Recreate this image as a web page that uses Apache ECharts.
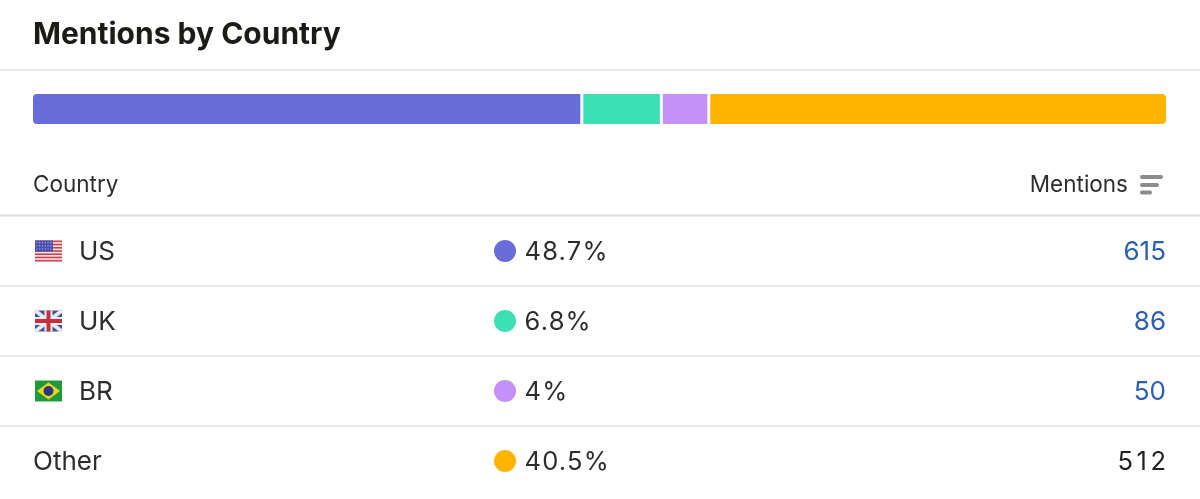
<!DOCTYPE html>
<html><head><meta charset="utf-8">
<style>html,body{margin:0;padding:0;background:#fff}#c{width:1200px;height:499px}</style>
<script src="https://cdn.jsdelivr.net/npm/echarts@6/dist/echarts.min.js"></script>
</head><body><div id="c"></div>
<script>
const countries = ['US','UK','BR','Other'];
const mentions = [615,86,50,512];
const shares = ['48.7%','6.8%','4%','40.5%'];
const colors = ['#686dda','#3ce0b2','#c391f7','#ffb400'];
const titleText = 'Mentions by Country';
const columnHeads = ['Country','Mentions'];

const FONT = 'Inter, "Noto Sans", sans-serif';
const total = mentions.reduce((a,b)=>a+b,0);
const gapPx = 3, barW = 1133;
const gapUnits = gapPx/(barW-3*gapPx)*total;

const series = [];
mentions.forEach((v,i)=>{
  const n = mentions.length;
  const radius = i===0 ? [4,0,0,4] : i===n-1 ? [0,4,4,0] : 0;
  series.push({type:'bar',name:countries[i],stack:'s',barWidth:30,silent:true,data:[v],
    itemStyle:{color:colors[i],borderRadius:radius}});
  if(i<n-1) series.push({type:'bar',name:'gap'+i,stack:'s',barWidth:30,silent:true,data:[gapUnits],
    itemStyle:{color:'transparent'}});
});

const g = [];
const line=(y,c,w)=>g.push({type:'rect',shape:{x:0,y:y-w/2,width:1200,height:w},style:{fill:c},silent:true});
const text=(x,y,t,fill,size,align,weight,zlevel)=>g.push({type:'text',x,y,silent:true,zlevel:zlevel||0,
  style:{text:t,fill,font:`${weight||400} ${size}px ${FONT}`,textAlign:align||'left',textVerticalAlign:'middle'}});

text(33,35,titleText,'#1a1c17',30,'left',700);
line(70,'#e9ebec',2);
text(33,185,columnHeads[0],'#2b2d2f',22.5);
text(1128,185,columnHeads[1],'#2b2d2f',22.5,'right');
[[1140,177,23],[1140,185,19],[1140,192.5,12]].forEach(([x,y,w])=>g.push({type:'rect',silent:true,
  shape:{x,y:y-2,width:w,height:4,r:2},style:{fill:'#8c8c8c'}}));
line(215.5,'#d8dde0',2);

const rowY=[252,322,392,462], sepY=[286,356,426];
sepY.forEach(y=>line(y,'#e9ebec',2));

function flag(i,x,y){ // x,y top-left of a 27x21 flag
  const W=27,H=21, ch=[];
  const r=(a,b,w,h,c)=>ch.push({type:'rect',silent:true,shape:{x:x+a,y:y+b,width:w,height:h},style:{fill:c}});
  if(i===0){
    r(0,0,W,H,'#f4e6e6');
    for(let k=0;k<7;k++) r(0,k*H/6.5,W,H/13,'#c8414f');
    r(0,0,18,11,'#474fae');
    for(let a=0;a<6;a++)for(let b=0;b<3;b++) r(1.3+a*2.8,1.6+b*3.2,1.1,1.1,'#b6bae6');
  } else if(i===1){
    r(0,0,W,H,'#3f5498');
    const d=(x1,y1,x2,y2,c,w)=>ch.push({type:'line',silent:true,shape:{x1:x+x1,y1:y+y1,x2:x+x2,y2:y+y2},style:{stroke:c,lineWidth:w}});
    d(0,0,W,H,'#e6e8f0',4);d(W,0,0,H,'#e6e8f0',4);
    r(9.5,0,8,H,'#f3eeee');r(0,6.5,W,8,'#f3eeee');
    r(11.5,0,4,H,'#c5303f');r(0,8.5,W,4,'#c5303f');
  } else {
    r(0,0,W,H,'#1f9a3c');
    ch.push({type:'polygon',silent:true,shape:{points:[[x+13.5,y+2],[x+25,y+10.5],[x+13.5,y+19],[x+2,y+10.5]]},style:{fill:'#f2d51d'}});
    ch.push({type:'circle',silent:true,shape:{cx:x+13.5,cy:y+10.5,r:5},style:{fill:'#26387f'}});
  }
  g.push(...ch);
}

countries.forEach((c,i)=>{
  const y=rowY[i], isOther=i===countries.length-1;
  if(isOther) text(33,y,c,'#2b2d2f',26);
  else { flag(i,35,y-11.5); text(79,y,c,'#2b2d2f',26); }
  g.push({type:'circle',silent:true,shape:{cx:505,cy:y-1,r:11},style:{fill:colors[i]}});
  text(524.5,y,shares[i],'#2b2d2f',25.5,'left',400,1);
  if(isOther) text(1169.5,y,String(mentions[i]),'#1f2123',25.5,'right',400,2);
  else text(1166,y,String(mentions[i]),'#2a5fb8',26,'right');
});

const chart=echarts.init(document.getElementById('c'),null,{renderer:'canvas'});
const option={
  animation:false,backgroundColor:'#fff',
  grid:{left:33,top:94,width:barW,height:30},
  xAxis:{type:'value',min:0,max:total+3*gapUnits,show:false},
  yAxis:{type:'category',data:['Mentions'],show:false},
  series,graphic:g
};
const painter=chart.getZr().painter;
[[1,'1.2px'],[2,'3.5px']].forEach(([z,ls])=>{
  const layer=painter.getLayer(z);
  layer.ctx.letterSpacing=ls;
});
chart.setOption(option);
</script></body></html>
